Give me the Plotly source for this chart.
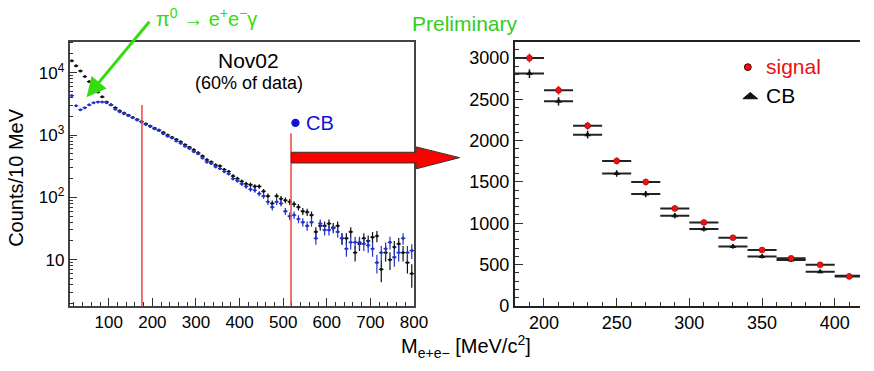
import plotly.graph_objects as go

W, H = 874, 371
FONT = "Liberation Sans, Arial, sans-serif"

# ---------------- left panel: M(e+e-) spectrum, 10 MeV bins ----------------
mass_left = [15, 25, 35, 45, 55, 65, 75, 85, 95, 105,
             115, 125, 135, 145, 155, 165, 175, 185, 195, 205,
             215, 225, 235, 245, 255, 265, 275, 285, 295, 305,
             315, 325, 335, 345, 355, 365, 375, 385, 395, 405,
             415, 425, 435, 445, 455, 465, 475, 485, 495, 505,
             515, 525, 535, 545, 555, 565, 575, 585, 595, 605,
             615, 625, 635, 645, 655, 665, 675, 685, 695, 705,
             715, 725, 735, 745, 755, 765, 775, 785, 795]

counts_cb = [4300, 2950, 2550, 2750, 3050, 3300, 3400, 3400, 3300, 3050,
             2600, 2370, 2200, 2050, 1900, 1750, 1620, 1480, 1370, 1260,
             1180, 1050, 960, 900, 800, 740, 660, 610, 540, 500,
             430, 370, 350, 310, 290, 260, 240, 200, 185, 165,
             150, 135, 130, 115, 105, 85, 70, 85, 80, 60,
             50, 52, 45, 40, 35, 40, 22, 38, 30, 30,
             32, 28, 22, 15, 19, 19, 19, 18, 17, 15,
             9, 13, 15, 19, 11, 13, 22, 13, 14]

counts_total = [15500, 12900, 10700, 8700, 7200, 5900, 4900, 4100, 3400, 3050,
                2750, 2450, 2250, 2080, 1920, 1780, 1650, 1520, 1400, 1290,
                1200, 1100, 1000, 920, 850, 780, 700, 640, 580, 520,
                460, 400, 370, 330, 320, 280, 260, 220, 200, 180,
                165, 160, 150, 150, 125, 105, 80, 105, 95, 90,
                85, 78, 70, 60, 58, 52, 28, 35, 35, 38,
                33, 35, 22, 22, 28, 13, 18, 22, 20, 23,
                24, 7, 13, 10, 16, 18, 13, 9, 6]

cut_lines = [176, 518]

# ---------------- right panel: 20 MeV bins ----------------
mass_right = [190, 210, 230, 250, 270, 290, 310, 330, 350, 370, 390, 410]
signal = [3000, 2610, 2180, 1755, 1500, 1180, 1010, 825, 676, 575, 496, 356]
cb_right = [2812, 2476, 2073, 1603, 1353, 1091, 931, 719, 598, 555, 414, 364]

left_ticks = [10, 100, 1000, 10000]
left_ticktext = ["10", "10<sup>2</sup>", "10<sup>3</sup>", "10<sup>4</sup>"]


def px(x):
    return x / W


def py(y):
    return 1 - y / H


BLACK = "#111111"
BLUE = "#2233cc"
RED = "#ee1111"
GREEN = "#33dd11"

fig = go.Figure()

fig.add_trace(go.Scatter(
    x=mass_left, y=counts_total, mode="markers", xaxis="x", yaxis="y",
    marker=dict(size=3, color=BLACK),
    error_y=dict(type="sqrt", color=BLACK, thickness=1.2, width=0),
    error_x=dict(type="constant", value=5, color=BLACK, thickness=1.2, width=0),
    showlegend=False))
fig.add_trace(go.Scatter(
    x=mass_left, y=counts_cb, mode="markers", xaxis="x", yaxis="y",
    marker=dict(size=3, color=BLUE),
    error_y=dict(type="sqrt", color=BLUE, thickness=1.2, width=0),
    error_x=dict(type="constant", value=5, color=BLUE, thickness=1.2, width=0),
    showlegend=False))

fig.add_trace(go.Scatter(
    x=mass_right, y=cb_right, mode="markers", xaxis="x2", yaxis="y2",
    marker=dict(size=6, color=BLACK, symbol="triangle-up"),
    error_y=dict(type="sqrt", color=BLACK, thickness=1.5, width=0),
    error_x=dict(type="constant", value=10, color="#222222", thickness=2, width=0),
    showlegend=False))
fig.add_trace(go.Scatter(
    x=mass_right, y=signal, mode="markers", xaxis="x2", yaxis="y2",
    marker=dict(size=6, color=RED, line=dict(width=0.5, color="#880000")),
    error_y=dict(type="sqrt", color=RED, thickness=1.5, width=0),
    error_x=dict(type="constant", value=10, color="#222222", thickness=2, width=0),
    showlegend=False))

ydom = [py(314.3), py(42.7)]
axis_common = dict(showgrid=False, zeroline=False, ticks="inside", ticklen=8,
                   tickwidth=1.2, tickcolor="#333333", showline=True)

fig.update_layout(
    width=W, height=H, autosize=False, margin=dict(l=0, r=0, t=0, b=0, pad=0),
    paper_bgcolor="white", plot_bgcolor="white",
    font=dict(family=FONT, color="black"),
    xaxis=dict(domain=[px(70.7), px(420.7)], range=[10, 800], anchor="y",
               tick0=0, dtick=100, linecolor="#444444", linewidth=1.5, mirror=True,
               minor=dict(dtick=20, tick0=0, ticks="inside", ticklen=4, tickcolor="#333333"),
               tickfont=dict(size=17), **axis_common),
    yaxis=dict(domain=ydom, type="log", range=[0.26, 4.5], anchor="x",
               tickmode="array", tickvals=left_ticks, ticktext=left_ticktext,
               linecolor="#444444", linewidth=1.5, mirror=True,
               minor=dict(dtick="D1", ticks="inside", ticklen=4, tickcolor="#333333"),
               tickfont=dict(size=17), **axis_common),
    xaxis2=dict(domain=[px(523.3), 1.0], range=[180, 417.4], anchor="y2",
                tick0=0, dtick=50, linecolor="#222222", linewidth=2, mirror=True,
                minor=dict(dtick=10, tick0=0, ticks="inside", ticklen=4, tickcolor="#333333"),
                tickfont=dict(size=18), **axis_common),
    yaxis2=dict(domain=ydom, range=[0, 3200], anchor="x2",
                tick0=0, dtick=500, linecolor="#222222", linewidth=2,
                minor=dict(dtick=100, tick0=0, ticks="inside", ticklen=4, tickcolor="#333333"),
                tickfont=dict(size=18), **axis_common),
)

shapes = []
tops = [108, 137]
for xv, top in zip(cut_lines, tops):
    shapes.append(dict(type="line", xref="x", yref="paper", x0=xv, x1=xv,
                       y0=py(314.3), y1=py(top), line=dict(color="#ee4444", width=1.5)))

# big red arrow linking the panels
arrow_pts = [(296, 156.5), (423, 156.5), (423, 151), (467, 162), (423, 173.5), (423, 167.5), (296, 167.5)]
path = "M " + " L ".join(f"{px(x):.5f},{py(y):.5f}" for x, y in arrow_pts) + " Z"
shapes.append(dict(type="path", xref="paper", yref="paper", path=path,
                   fillcolor="#ff0000", line=dict(color="#333333", width=1)))

# legend symbols (right panel)
shapes.append(dict(type="circle", xref="paper", yref="paper",
                   x0=px(756.5), x1=px(763.5), y0=py(72.5), y1=py(65.5),
                   fillcolor=RED, line=dict(color="#550000", width=1)))
tri = [(755, 101.5), (770, 101.5), (762.5, 95)]
shapes.append(dict(type="path", xref="paper", yref="paper",
                   path="M " + " L ".join(f"{px(x):.5f},{py(y):.5f}" for x, y in tri) + " Z",
                   fillcolor=BLACK, line=dict(color=BLACK, width=1)))
# left panel CB dot
shapes.append(dict(type="circle", xref="paper", yref="paper",
                   x0=px(296), x1=px(304.5), y0=py(130.5), y1=py(122),
                   fillcolor="#1111dd", line=dict(color="#1111dd", width=0)))
fig.update_layout(shapes=shapes)


def ann(text, x, y, size, color="black", xanchor="center", **kw):
    fig.add_annotation(text=text, x=px(x), y=py(y), xref="paper", yref="paper",
                       showarrow=False, xanchor=xanchor, yanchor="middle",
                       font=dict(size=size, color=color, family=FONT), **kw)


ann("π<sup>0</sup> → e<sup>+</sup>e<sup>−</sup>γ", 210, 18, 20, GREEN)
ann("Preliminary", 472.5, 24, 21, "#33cc22")
ann("Nov02", 253, 62, 21)
ann("(60% of data)", 253, 85, 18)
ann("CB", 309, 126, 20, "#1111dd", xanchor="left")
ann("signal", 776, 68, 21, RED, xanchor="left")
ann("CB", 776, 98, 21, "black", xanchor="left")
ann("Counts/10 MeV", 16, 182, 20, textangle=-90)
ann("M<sub>e+e−</sub> [MeV/c<sup>2</sup>]", 474, 356, 20)

fig.add_annotation(x=px(88), y=py(100), xref="paper", yref="paper", text="",
                   showarrow=True, ax=64, ay=-77, arrowhead=2, arrowsize=1.3,
                   arrowwidth=3, arrowcolor=GREEN)

# fit the figure exactly to the browser viewport (no body margin, no scrollbars)
post = (
    "var s=document.createElement('style');"
    "s.textContent='html,body{margin:0!important;padding:0!important;overflow:hidden!important;}"
    "body>div{margin:0;padding:0;}';"
    "document.head.appendChild(s);"
    "var gd=document.getElementById('{plot_id}');"
    "var vw=window.innerWidth||document.documentElement.clientWidth||874;"
    "var vh=window.innerHeight||document.documentElement.clientHeight||371;"
    "if(vw<200){vw=874;} if(vh<100){vh=371;}"
    "gd.style.width=vw+'px'; gd.style.height=vh+'px';"
    "Plotly.relayout(gd,{width:vw,height:vh});"
)

fig.write_html("out.html",
               config={"displayModeBar": False, "responsive": False},
               post_script=post)
